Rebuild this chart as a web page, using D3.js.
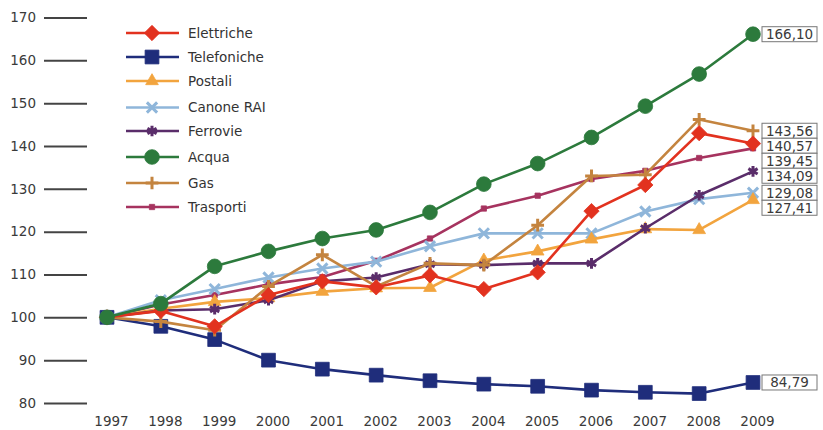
<!DOCTYPE html>
<html>
<head>
<meta charset="utf-8">
<script src="https://cdn.jsdelivr.net/npm/d3@7"></script>
<style>
  body { margin: 0; background: #fff; }
  svg { font-family: "DejaVu Sans", Verdana, sans-serif; }
</style>
</head>
<body>
<div id="chart"></div>
<script>
// data
const years = [1997, 1998, 1999, 2000, 2001, 2002, 2003, 2004, 2005, 2006, 2007, 2008, 2009];
const yTicks = [80, 90, 100, 110, 120, 130, 140, 150, 160, 170];

const elettriche  = [100, 101.5, 97.9, 105.2, 108.4, 107.0, 109.8, 106.6, 110.5, 124.8, 130.9, 143.0, 140.57];
const telefoniche = [100, 97.9, 94.8, 90.0, 87.9, 86.5, 85.2, 84.4, 83.9, 83.0, 82.5, 82.2, 84.79];
const postali     = [100, 102.0, 103.6, 104.5, 106.0, 106.8, 106.9, 113.3, 115.4, 118.2, 120.6, 120.4, 127.41];
const canoneRai   = [100, 104.0, 106.6, 109.3, 111.4, 113.0, 116.6, 119.6, 119.6, 119.6, 124.7, 127.6, 129.08];
const ferrovie    = [100, 101.6, 101.9, 104.0, 108.4, 109.3, 112.4, 112.2, 112.6, 112.6, 120.8, 128.5, 134.09];
const acqua       = [100, 103.2, 111.9, 115.4, 118.4, 120.4, 124.5, 131.1, 135.9, 142.0, 149.3, 156.8, 166.10];
const gas         = [100, 99.0, 97.0, 107.2, 114.6, 107.2, 112.6, 112.2, 121.5, 133.0, 133.3, 146.2, 143.56];
const trasporti   = [100, 103.0, 105.2, 107.7, 109.4, 113.2, 118.4, 125.4, 128.4, 132.3, 134.2, 137.2, 139.45];

const seriesNames = ["Elettriche", "Telefoniche", "Postali", "Canone RAI", "Ferrovie", "Acqua", "Gas", "Trasporti"];
const seriesValues = [elettriche, telefoniche, postali, canoneRai, ferrovie, acqua, gas, trasporti];
const endLabels = ["140,57", "84,79", "127,41", "129,08", "134,09", "166,10", "143,56", "139,45"];

const colors = ["#e2321f", "#1f2d7b", "#f2a43e", "#8fb6da", "#5a2d6a", "#2c7a3c", "#c4843f", "#a6335f"];
const symbols = [d3.symbolDiamond2, d3.symbolSquare, d3.symbolTriangle, d3.symbolX, d3.symbolAsterisk, d3.symbolCircle, d3.symbolPlus, d3.symbolSquare];
const symSize = [150, 190, 70, 70, 80, 170, 55, 28];
const stroked = [false, false, false, true, true, false, true, false];

const W = 823, H = 430;
const svg = d3.select("#chart").append("svg")
  .attr("width", W)
  .attr("height", H);

const x = d3.scaleLinear().domain([1997, 2009]).range([107, 753]);
const y = d3.scaleLinear().domain([80, 170]).range([403, 17.5]);

// y axis: short dashes on the left
const yAxis = svg.append("g")
  .attr("transform", "translate(87,0)")
  .call(d3.axisLeft(y).tickValues(yTicks).tickSize(43).tickPadding(8).tickFormat(d3.format("d")));
yAxis.select(".domain").remove();
yAxis.selectAll(".tick line").attr("stroke", "#444").attr("stroke-width", 2);
yAxis.selectAll(".tick text").attr("fill", "#3a3a3a").style("font-size", "13.5px").style("font-family", "DejaVu Sans");

// x axis: labels only
const xAxis = svg.append("g")
  .attr("transform", "translate(4,412)")
  .call(d3.axisBottom(x).tickValues(years).tickSize(0).tickPadding(4).tickFormat(d3.format("d")));
xAxis.select(".domain").remove();
xAxis.selectAll(".tick text").attr("fill", "#3a3a3a").style("font-size", "13.5px").style("font-family", "DejaVu Sans");

const line = d3.line()
  .x((d, i) => x(years[i]))
  .y(d => y(d));

// draw order so that the navy and the green sit like in the picture
const order = [1, 7, 3, 2, 4, 6, 0, 5];

order.forEach(k => {
  const g = svg.append("g");
  g.append("path")
    .datum(seriesValues[k])
    .attr("fill", "none")
    .attr("stroke", colors[k])
    .attr("stroke-width", 2.6)
    .attr("stroke-linejoin", "round")
    .attr("d", line);

  const sym = d3.symbol().type(symbols[k]).size(symSize[k]);
  g.selectAll("path.mk")
    .data(seriesValues[k])
    .enter()
    .append("path")
    .attr("class", "mk")
    .attr("transform", (d, i) => "translate(" + x(years[i]) + "," + y(d) + ")")
    .attr("d", sym)
    .attr("fill", stroked[k] ? "none" : colors[k])
    .attr("stroke", colors[k])
    .attr("stroke-width", stroked[k] ? 3 : 0.8);
});

// end-value boxes, pushed apart so they don't overlap
let labels = seriesValues.map((v, k) => ({ text: endLabels[k], y: y(v[v.length - 1]) }));
labels.sort((a, b) => a.y - b.y);
for (let i = 1; i < labels.length; i++) {
  if (labels[i].y - labels[i - 1].y < 15) labels[i].y = labels[i - 1].y + 15;
}

const lab = svg.selectAll(".endlab")
  .data(labels)
  .enter()
  .append("g")
  .attr("class", "endlab")
  .attr("transform", d => "translate(762," + d.y + ")");

lab.append("rect")
  .attr("x", 0)
  .attr("y", -7.5)
  .attr("width", 55)
  .attr("height", 15)
  .attr("fill", "#fff")
  .attr("stroke", "#777")
  .attr("stroke-width", 1);

lab.append("text")
  .attr("x", 27.5)
  .attr("dy", "0.36em")
  .attr("text-anchor", "middle")
  .attr("fill", "#3a3a3a")
  .style("font-size", "13.5px")
  .text(d => d.text);

// legend
const legend = svg.append("g").attr("transform", "translate(126,33)");
const legendRows = [0, 24, 48, 74.5, 98, 124, 150, 174];

seriesNames.forEach((name, k) => {
  const row = legend.append("g").attr("transform", "translate(0," + legendRows[k] + ")");
  row.append("line")
    .attr("x1", 0).attr("x2", 53)
    .attr("stroke", colors[k])
    .attr("stroke-width", 2.6);
  row.append("path")
    .attr("transform", "translate(26,0)")
    .attr("d", d3.symbol().type(symbols[k]).size(symSize[k])())
    .attr("fill", stroked[k] ? "none" : colors[k])
    .attr("stroke", colors[k])
    .attr("stroke-width", stroked[k] ? 3 : 0.8);
  row.append("text")
    .attr("x", 62)
    .attr("dy", "0.35em")
    .attr("fill", "#333")
    .style("font-size", "13.5px")
    .text(name);
});
</script>
</body>
</html>
